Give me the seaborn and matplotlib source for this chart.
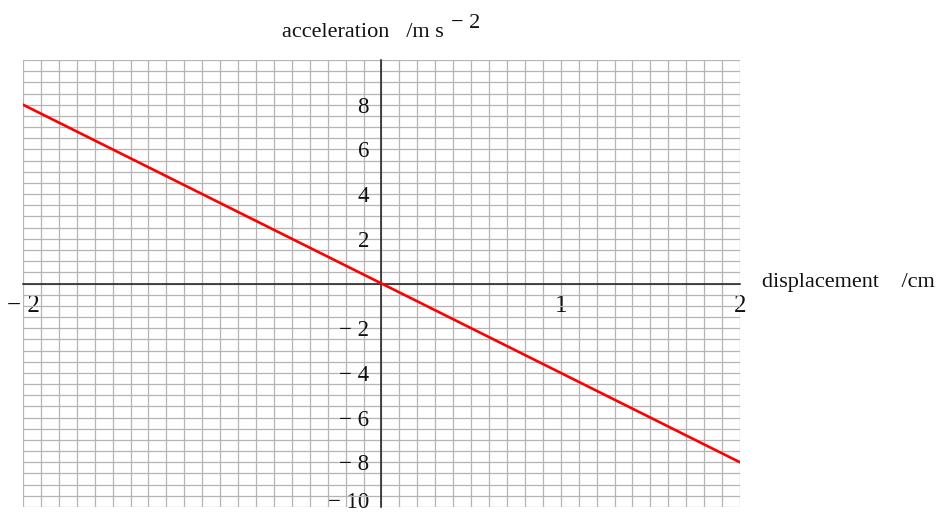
import numpy as np
import pandas as pd
import matplotlib
matplotlib.use("Agg")
import matplotlib.pyplot as plt
import matplotlib.transforms as mtransforms
from matplotlib.ticker import MultipleLocator
import seaborn as sns

# Data: acceleration versus displacement for simple harmonic motion
displacement = [-2, 2]          # cm
acceleration = [8, -8]          # m s^-2

x_ticks = [-2, 1, 2]
x_tick_labels = ["\u2212 2", "1", "2"]
y_ticks = [-10, -8, -6, -4, -2, 2, 4, 6, 8]
y_tick_labels = ["\u2212 10", "\u2212 8", "\u2212 6", "\u2212 4", "\u2212 2", "2", "4", "6", "8"]

sns.set_style("white")
plt.rcParams["font.family"] = ["Liberation Serif", "DejaVu Serif"]

df = pd.DataFrame({"displacement": displacement, "acceleration": acceleration})

fig = plt.figure(figsize=(9.37, 5.14), dpi=100)
W, H = 937, 514
ax = fig.add_axes([23 / W, 7 / H, (740 - 23) / W, (507 - 60) / H])

sns.lineplot(data=df, x="displacement", y="acceleration", ax=ax,
             color="#ff0000", linewidth=1.9, zorder=5)

ax.set_xlim(-2, 2)
ax.set_ylim(-10, 10)

# Graph-paper grid
ax.xaxis.set_minor_locator(MultipleLocator(0.1))
ax.yaxis.set_minor_locator(MultipleLocator(0.5))
ax.set_xticks(x_ticks)
ax.set_xticklabels(x_tick_labels)
ax.set_yticks(y_ticks)
ax.set_yticklabels(y_tick_labels)
ax.grid(True, which="both", color="#b5b5b5", linewidth=0.9)
ax.set_axisbelow(True)

# Axes crossing at the origin
for side in ("top", "right"):
    ax.spines[side].set_visible(False)
ax.spines["left"].set_position(("data", 0))
ax.spines["bottom"].set_position(("data", 0))
for side in ("left", "bottom"):
    ax.spines[side].set_color("#1a1a1a")
    ax.spines[side].set_linewidth(1.1)
    ax.spines[side].set_zorder(4)

ax.tick_params(which="minor", length=0)
ax.tick_params(axis="y", which="major", direction="in", length=4, width=1.0,
               color="#1a1a1a", labelsize=16.5, pad=9)
ax.tick_params(axis="x", which="major", direction="in", length=4, width=1.0,
               color="#1a1a1a", labelsize=18, pad=8)
for lbl in ax.get_xticklabels() + ax.get_yticklabels():
    lbl.set_color("#111111")

# Lift the lowest y label so it stays inside the figure
low = ax.get_yticklabels()[0]
low.set_transform(low.get_transform() +
                  mtransforms.ScaledTranslation(0, 7 / 100, fig.dpi_scale_trans))

ax.set_xlabel("")
ax.set_ylabel("")

# Axis titles
title_shift = mtransforms.ScaledTranslation(0, 23 / 100, fig.dpi_scale_trans)
t1 = ax.text(-0.105, 10.0, "acceleration   /m s", ha="center", va="baseline",
             fontsize=16, color="#111111",
             transform=ax.transData + title_shift)
ax.annotate("\u2212 2", xy=(1, 1), xycoords=t1, xytext=(7, -5),
            textcoords="offset pixels", ha="left", va="baseline",
            fontsize=16, color="#111111", annotation_clip=False)

ax.annotate("displacement    /cm", xy=(2, 0), xytext=(22, 1),
            textcoords="offset pixels", ha="left", va="center",
            fontsize=16, color="#111111", annotation_clip=False)

fig.savefig("out.png", dpi=100)
